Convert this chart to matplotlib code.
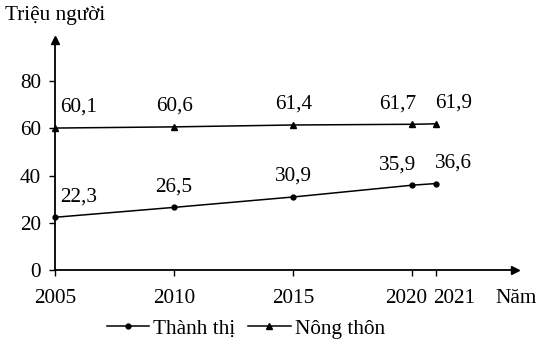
import matplotlib as mpl
mpl.use('Agg')
import matplotlib.pyplot as plt
from matplotlib.transforms import ScaledTranslation

# data
years = [2005, 2010, 2015, 2020, 2021]
thanh_thi = [22.3, 26.5, 30.9, 35.9, 36.6]
nong_thon = [60.1, 60.6, 61.4, 61.7, 61.9]
year_labels = ['2005', '2010', '2015', '2020', '2021']
y_ticks = [0, 20, 40, 60, 80]

plt.rcParams['font.family'] = ['Liberation Serif', 'DejaVu Serif']
fs = 15.3

fig = plt.figure(figsize=(5.39, 3.51), dpi=100)
ax = fig.add_axes([0.102, 0.231, 0.853, 0.655])
ax.set_xlim(2005, 2024.3)
ax.set_ylim(0, 97.4)

ax.plot(years, thanh_thi, color='black', lw=1.1, marker='o', ms=3.5,
        label='Thành thị', clip_on=False)
ax.plot(years, nong_thon, color='black', lw=1.1, marker='^', ms=4,
        label='Nông thôn', clip_on=False)

# value labels
offs = [(4, 'left'), (0, 'center'), (0, 'center'), (3, 'right'), (-1, 'left')]
for i, yr in enumerate(years):
    dx, ha = offs[i]
    for vals in (thanh_thi, nong_thon):
        ax.annotate(f'{vals[i]:.1f}'.replace('.', ','), (yr, vals[i]),
                    xytext=(dx, 8), textcoords='offset points',
                    ha=ha, va='bottom', fontsize=fs)

for s in ('top', 'right'):
    ax.spines[s].set_visible(False)
for s in ('left', 'bottom'):
    ax.spines[s].set_linewidth(1.3)
ax.plot(0, 1, '^k', ms=6, transform=ax.transAxes, clip_on=False)
ax.plot(1, 0, '>k', ms=6, transform=ax.transAxes, clip_on=False)

ax.set_xticks(years)
ax.set_xticklabels(year_labels)
ax.set_yticks(y_ticks)
ax.tick_params(direction='out', length=4, width=1, labelsize=fs, pad=6)
ax.tick_params(axis='x', pad=10)
tl = ax.get_xticklabels()
tl[3].set_ha('right')
tl[3].set_transform(tl[3].get_transform() + ScaledTranslation(0.15, 0, fig.dpi_scale_trans))
tl[4].set_ha('left')
tl[4].set_transform(tl[4].get_transform() + ScaledTranslation(-0.03, 0, fig.dpi_scale_trans))

fig.text(0.01, 0.955, 'Triệu người', fontsize=fs, va='center', ha='left')
fig.text(0.995, 0.150, 'Năm', fontsize=fs, va='center', ha='right')

ax.legend(loc='upper center', bbox_to_anchor=(0.415, -0.175), ncol=2,
          frameon=False, fontsize=fs, handlelength=2.0, handletextpad=0.2,
          columnspacing=0.6, borderaxespad=0)

fig.savefig('out.png', dpi=100)
